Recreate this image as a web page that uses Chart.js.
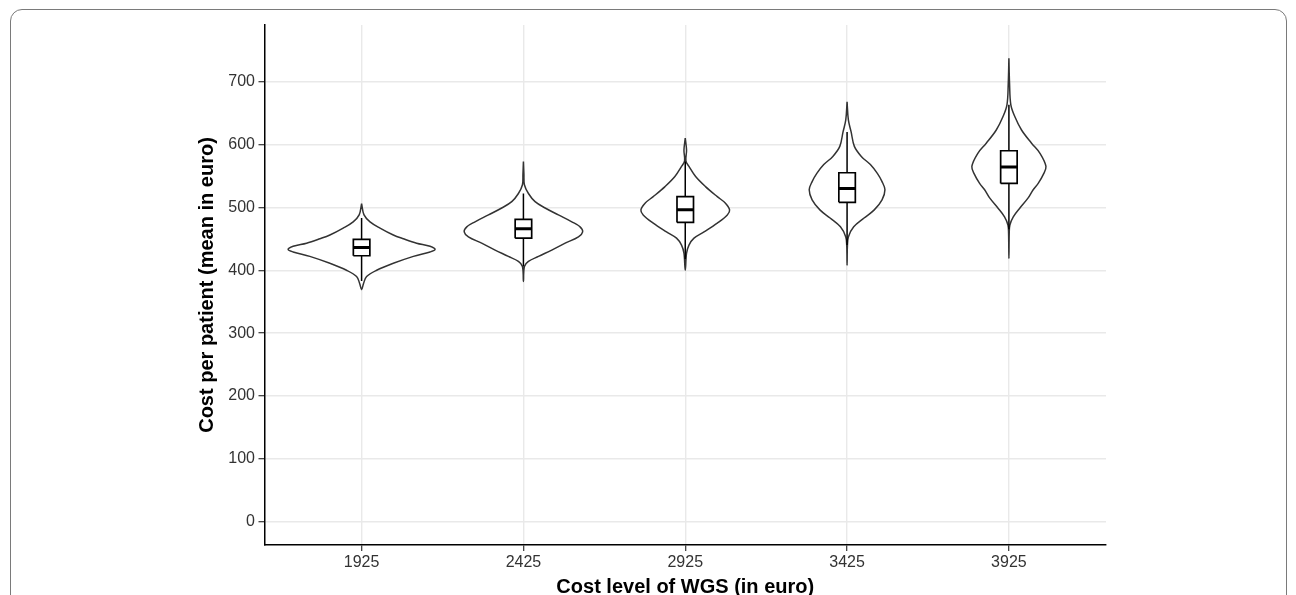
<!DOCTYPE html>
<html>
<head>
<meta charset="utf-8">
<script src="https://cdn.jsdelivr.net/npm/chart.js@4.4.0/dist/chart.umd.min.js"></script>
<style>
html,body{margin:0;padding:0;background:#fff;}
#wrap{position:relative;width:1296px;height:595px;overflow:hidden;background:#fff;}
#frame{position:absolute;left:10px;top:9px;width:1277px;height:700px;border:1.5px solid #7a7a7a;border-radius:12px;box-sizing:border-box;}
canvas{position:absolute;left:0;top:0;}
</style>
</head>
<body>
<div id="wrap"><div id="frame"></div><canvas id="c" width="1296" height="595"></canvas></div>
<script>
// ---- data ----
const categories = ['1925', '2425', '2925', '3425', '3925'];
const yTicks = [0, 100, 200, 300, 400, 500, 600, 700];

// violin outlines: cost values (top to bottom) and half-widths (in category units)
const values1925 = [506, 488, 477, 467, 456, 450, 443, 438, 433, 429, 422, 411, 400, 390, 379, 369];
const widths1925 = [0, 0.015, 0.052, 0.114, 0.196, 0.258, 0.340, 0.423, 0.454, 0.423, 0.320, 0.196, 0.093, 0.031, 0.012, 0];

const values2425 = [573, 552, 536, 522, 509, 499, 488, 477, 469, 461, 453, 443, 432, 422, 414, 406, 382];
const widths2425 = [0, 0.003, 0.006, 0.031, 0.072, 0.134, 0.216, 0.299, 0.350, 0.366, 0.340, 0.258, 0.175, 0.093, 0.031, 0.006, 0];

const values2925 = [610, 591, 574, 565, 549, 533, 517, 507, 496, 488, 475, 461, 451, 440, 427, 400];
const widths2925 = [0, 0.008, 0.004, 0.023, 0.064, 0.125, 0.198, 0.247, 0.274, 0.260, 0.198, 0.116, 0.054, 0.023, 0.008, 0];

const values3425 = [668, 639, 620, 597, 581, 568, 554, 541, 528, 512, 496, 483, 469, 453, 438, 408];
const widths3425 = [0, 0.008, 0.025, 0.045, 0.088, 0.144, 0.187, 0.216, 0.234, 0.216, 0.168, 0.105, 0.041, 0.008, 0.002, 0];

const values3925 = [737, 697, 663, 644, 623, 602, 586, 565, 552, 538, 528, 515, 499, 485, 472, 459, 419];
const widths3925 = [0, 0.004, 0.012, 0.037, 0.078, 0.140, 0.192, 0.229, 0.212, 0.181, 0.150, 0.119, 0.068, 0.027, 0.006, 0.002, 0];

// boxplot statistics
const lowerWhisker = [383, 406, 418, 440, 465];
const q1 = [423, 451, 476, 508, 538];
const median = [436, 466, 496, 530, 564];
const q3 = [449, 481, 517, 555, 590];
const upperWhisker = [483, 522, 573, 620, 663];

// ---- build datasets ----
const violinValues = [values1925, values2425, values2925, values3425, values3925];
const violinWidths = [widths1925, widths2425, widths2925, widths3425, widths3925];
const FONT = "'Liberation Sans', Arial, Helvetica, sans-serif";
const BOX_HALF = 0.051;

const datasets = [];
categories.forEach((cat, i) => {
  const cx = i + 1;
  const vals = violinValues[i], ws = violinWidths[i];
  const pts = vals.map((v, k) => ({x: cx - ws[k], y: v}));
  for (let k = vals.length - 2; k >= 0; k--) pts.push({x: cx + ws[k], y: vals[k]});
  datasets.push({
    data: pts, borderColor: '#333333', borderWidth: 1.5, backgroundColor: '#ffffff',
    fill: 'shape', tension: 0.35, pointRadius: 0, order: 4
  });
  datasets.push({
    data: [{x: cx, y: q3[i]}, {x: cx, y: upperWhisker[i]}, {x: cx, y: null},
           {x: cx, y: q1[i]}, {x: cx, y: lowerWhisker[i]}],
    borderColor: '#000000', borderWidth: 1.5, fill: false, tension: 0, pointRadius: 0, spanGaps: false, order: 3
  });
  datasets.push({
    data: [{x: cx - BOX_HALF, y: q1[i]}, {x: cx + BOX_HALF, y: q1[i]}, {x: cx + BOX_HALF, y: q3[i]},
           {x: cx - BOX_HALF, y: q3[i]}, {x: cx - BOX_HALF, y: q1[i]}],
    borderColor: '#000000', borderWidth: 1.7, backgroundColor: '#ffffff', fill: 'shape',
    tension: 0, pointRadius: 0, borderJoinStyle: 'miter', order: 2
  });
  datasets.push({
    data: [{x: cx - BOX_HALF, y: median[i]}, {x: cx + BOX_HALF, y: median[i]}],
    borderColor: '#000000', borderWidth: 3, fill: false, tension: 0, pointRadius: 0,
    borderCapStyle: 'butt', order: 1
  });
});

new Chart(document.getElementById('c'), {
  type: 'line',
  data: {datasets},
  options: {
    responsive: false,
    animation: false,
    devicePixelRatio: 1,
    events: [],
    layout: {padding: {left: 0, right: 190, top: 25, bottom: 0}},
    plugins: {legend: {display: false}, tooltip: {enabled: false}},
    scales: {
      x: {
        type: 'linear', min: 0.4, max: 5.6,
        afterBuildTicks: s => { s.ticks = categories.map((c, i) => ({value: i + 1})); },
        afterFit: s => { s.height = 50; },
        ticks: {
          callback: (v, idx) => categories[idx],
          font: {family: FONT, size: 16}, color: '#333333', padding: 2,
          maxRotation: 0, autoSkip: false
        },
        grid: {color: '#e9e9e9', lineWidth: 1.4, tickColor: '#333333', tickLength: 6, tickWidth: 1.2},
        border: {display: true, color: '#000000', width: 1.5},
        title: {
          display: true, text: 'Cost level of WGS (in euro)', color: '#000000',
          font: {family: FONT, size: 20, weight: 'bold'}, padding: {top: 0, bottom: -4.5}
        }
      },
      y: {
        type: 'linear', min: -37, max: 790,
        afterBuildTicks: s => { s.ticks = yTicks.map(v => ({value: v})); },
        afterFit: s => { s.width = 264.5; },
        ticks: {font: {family: FONT, size: 16}, color: '#333333', padding: 3.5},
        grid: {color: '#e9e9e9', lineWidth: 1.4, tickColor: '#333333', tickLength: 6, tickWidth: 1.2},
        border: {display: true, color: '#000000', width: 1.5},
        title: {
          display: true, text: 'Cost per patient (mean in euro)', color: '#000000',
          font: {family: FONT, size: 20, weight: 'bold'}, padding: {top: 195.5, bottom: 0}
        }
      }
    }
  }
});
</script>
</body>
</html>
